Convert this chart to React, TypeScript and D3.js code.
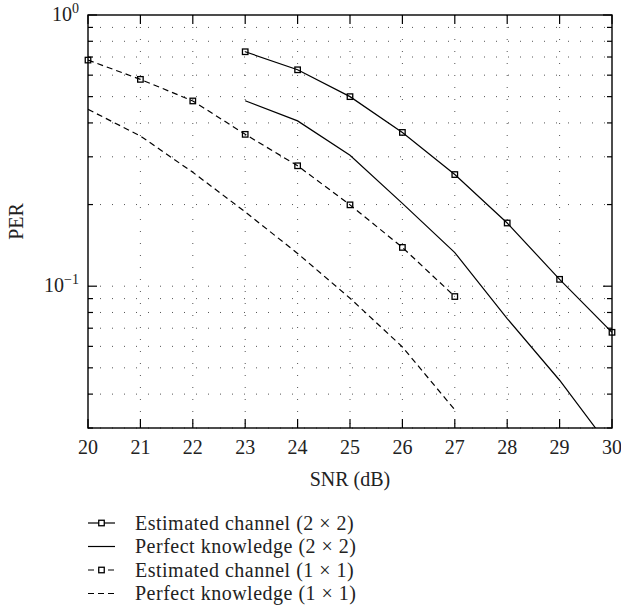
import React from "react";
import * as d3 from "d3";

// SNR (dB) values for each curve
const snrEst22 = [23, 24, 25, 26, 27, 28, 29, 30];
const perEst22 = [0.732, 0.628, 0.5, 0.369, 0.258, 0.171, 0.106, 0.0676];

const snrPerf22 = [23, 24, 25, 26, 27, 28, 29, 30];
const perPerf22 = [0.483, 0.407, 0.304, 0.202, 0.133, 0.076, 0.045, 0.0249];

const snrEst11 = [20, 21, 22, 23, 24, 25, 26, 27];
const perEst11 = [0.682, 0.579, 0.482, 0.363, 0.278, 0.1995, 0.139, 0.0916];

const snrPerf11 = [20, 21, 22, 23, 24, 25, 26, 27];
const perPerf11 = [0.449, 0.358, 0.263, 0.188, 0.132, 0.0903, 0.0597, 0.035];

const xTicks = [20, 21, 22, 23, 24, 25, 26, 27, 28, 29, 30];
const yMinor = [0.03, 0.04, 0.05, 0.06, 0.07, 0.08, 0.09, 0.2, 0.3, 0.4, 0.5, 0.6, 0.7, 0.8, 0.9];
const yMajor = [0.1, 1];

const legendLabels = [
  "Estimated channel (2 × 2)",
  "Perfect knowledge (2 × 2)",
  "Estimated channel (1 × 1)",
  "Perfect knowledge (1 × 1)",
];

const W = 621;
const H = 607;
const margin = { left: 88, top: 15, right: 9, bottom: 179 };
const font = "'Liberation Serif', 'DejaVu Serif', serif";

export default function App() {
  const innerW = W - margin.left - margin.right;
  const innerH = H - margin.top - margin.bottom;

  const x = d3.scaleLinear().domain([20, 30]).range([0, innerW]);
  const y = d3.scaleLog().domain([0.03, 1]).range([innerH, 0]);

  const line = d3
    .line<[number, number]>()
    .x((d) => x(d[0]))
    .y((d) => y(d[1]));

  const zip = (xs: number[], ys: number[]) => xs.map((v, i) => [v, ys[i]] as [number, number]);

  const series = [
    { pts: zip(snrEst22, perEst22), dash: "none", marker: true },
    { pts: zip(snrPerf22, perPerf22), dash: "none", marker: false },
    { pts: zip(snrEst11, perEst11), dash: "6,4", marker: true },
    { pts: zip(snrPerf11, perPerf11), dash: "6,4", marker: false },
  ];

  const sq = 5.5;
  const dot = "1,11";
  const fs = 20;

  return (
    <svg
      width={W}
      height={H}
      style={{ position: "absolute", left: 0, top: 0, background: "#fff" }}
      fontFamily={font}
      fill="#222"
    >
      <defs>
        <clipPath id="plotClip">
          <rect x={0} y={0} width={innerW} height={innerH} />
        </clipPath>
      </defs>
      <g transform={`translate(${margin.left},${margin.top})`}>
        {/* grid */}
        {xTicks.slice(1, -1).map((t) => (
          <line key={`gx${t}`} x1={x(t)} x2={x(t)} y1={0} y2={innerH} stroke="#555" strokeWidth={1} strokeDasharray={dot} />
        ))}
        {[...yMinor, 0.1].map((t) => (
          <line key={`gy${t}`} x1={0} x2={innerW} y1={y(t)} y2={y(t)} stroke="#555" strokeWidth={1} strokeDasharray={dot} />
        ))}

        {/* curves */}
        <g clipPath="url(#plotClip)">
          {series.map((s, i) => (
            <path key={i} d={line(s.pts) || ""} fill="none" stroke="#000" strokeWidth={1.2} strokeDasharray={s.dash} />
          ))}
        </g>
        {series.map((s, i) =>
          s.marker
            ? s.pts.map((p, j) => (
                <rect
                  key={`m${i}-${j}`}
                  x={x(p[0]) - sq / 2}
                  y={y(p[1]) - sq / 2}
                  width={sq}
                  height={sq}
                  fill="none"
                  stroke="#000"
                  strokeWidth={1.3}
                />
              ))
            : null
        )}

        {/* frame */}
        <rect x={0} y={0} width={innerW} height={innerH} fill="none" stroke="#000" strokeWidth={1.4} />

        {/* x ticks (inward, top & bottom) */}
        {xTicks.map((t) => (
          <g key={`xt${t}`}>
            <line x1={x(t)} x2={x(t)} y1={innerH} y2={innerH - 9} stroke="#000" strokeWidth={1.2} />
            <line x1={x(t)} x2={x(t)} y1={0} y2={9} stroke="#000" strokeWidth={1.2} />
            <text x={x(t)} y={innerH + 26} textAnchor="middle" fontSize={fs}>
              {t}
            </text>
          </g>
        ))}

        {/* y ticks */}
        {yMajor.map((t) => (
          <g key={`ym${t}`}>
            <line x1={0} x2={9} y1={y(t)} y2={y(t)} stroke="#000" strokeWidth={1.2} />
            <line x1={innerW} x2={innerW - 9} y1={y(t)} y2={y(t)} stroke="#000" strokeWidth={1.2} />
          </g>
        ))}
        {yMinor.map((t) => (
          <g key={`yn${t}`}>
            <line x1={0} x2={5} y1={y(t)} y2={y(t)} stroke="#000" strokeWidth={1.2} />
            <line x1={innerW} x2={innerW - 5} y1={y(t)} y2={y(t)} stroke="#000" strokeWidth={1.2} />
          </g>
        ))}
        {yMajor.map((t) => {
          const exp = Math.round(Math.log10(t));
          return (
            <text key={`yl${t}`} x={-9} y={y(t) + 6} textAnchor="end" fontSize={fs}>
              10
              <tspan dy={-8} fontSize={14}>
                {exp < 0 ? `\u2212${-exp}` : `${exp}`}
              </tspan>
            </text>
          );
        })}

        {/* axis titles */}
        <text x={innerW / 2} y={innerH + 58} textAnchor="middle" fontSize={fs}>
          SNR (dB)
        </text>
        <text transform={`translate(${-65},${innerH / 2}) rotate(-90)`} textAnchor="middle" fontSize={fs}>
          PER
        </text>
      </g>

      {/* legend */}
      <g transform="translate(88,523)">
        {legendLabels.map((lab, i) => {
          const s = series[i];
          const cy = i * 23.5;
          return (
            <g key={lab} transform={`translate(0,${cy})`}>
              <line x1={0} x2={27} y1={0} y2={0} stroke="#000" strokeWidth={1.2} strokeDasharray={s.dash === "none" ? "none" : "6,4"} />
              {s.marker ? (
                <rect x={13.5 - sq / 2} y={-sq / 2} width={sq} height={sq} fill="#fff" stroke="#000" strokeWidth={1.3} />
              ) : null}
              <text x={47} y={6.5} fontSize={fs} letterSpacing={0.5}>
                {lab}
              </text>
            </g>
          );
        })}
      </g>
    </svg>
  );
}
